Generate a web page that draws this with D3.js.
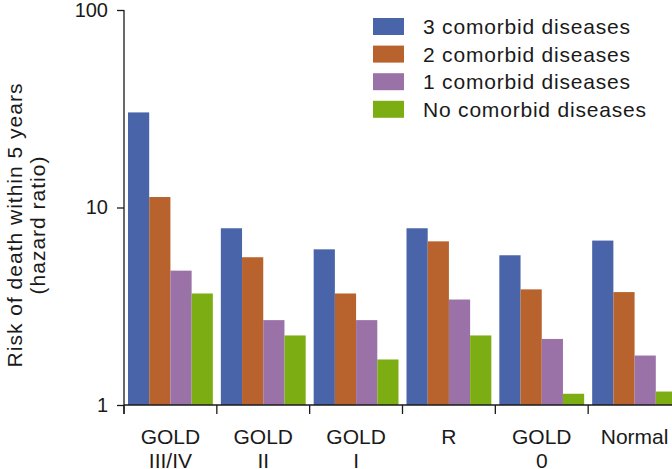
<!DOCTYPE html>
<meta charset="utf-8">
<script src="https://cdn.jsdelivr.net/npm/d3@7"></script>
<style>
body { margin: 0; background: #fff; }
text { font-family: "Liberation Sans", Arial, sans-serif; fill: #1a1a1a; }
.axis path, .axis line { stroke: #1a1a1a; stroke-width: 1.3px; }
</style>
<body>
<script>

// data
var categories = ["GOLD III/IV", "GOLD II", "GOLD I", "R", "GOLD 0", "Normal"];
var categoryLines = [["GOLD", "III/IV"], ["GOLD", "II"], ["GOLD", "I"], ["R"], ["GOLD", "0"], ["Normal"]];
var seriesNames = ["3 comorbid diseases", "2 comorbid diseases", "1 comorbid diseases", "No comorbid diseases"];
var threeDiseases = [30.3, 7.85, 6.14, 7.85, 5.73, 6.8];
var twoDiseases = [11.3, 5.6, 3.67, 6.74, 3.85, 3.73];
var oneDisease = [4.79, 2.69, 2.69, 3.42, 2.16, 1.78];
var noDisease = [3.67, 2.25, 1.70, 2.25, 1.14, 1.17];
var yTicks = [1, 10, 100];
var colors = ["#4a64aa", "#b8632d", "#9a72a8", "#7cae14"];

var seriesValues = [threeDiseases, twoDiseases, oneDisease, noDisease];

var width = 672,
    height = 469;

var svg = d3.select("body").append("svg")
    .attr("width", width)
    .attr("height", height);

var x = d3.scaleBand()
    .domain(categories)
    .range([124, 681]);

var x1 = d3.scaleBand()
    .domain(seriesNames)
    .range([4, x.bandwidth() - 4]);

var y = d3.scaleLog()
    .domain([1, 100])
    .range([405, 10]);

// bars
var groups = svg.append("g")
    .selectAll("g")
    .data(categories)
    .enter().append("g")
    .attr("transform", function(d) { return "translate(" + x(d) + ",0)"; });

groups.selectAll("rect")
    .data(function(d, i) {
        return seriesNames.map(function(s, j) {
            return {series: s, value: seriesValues[j][i], color: colors[j]};
        });
    })
    .enter().append("rect")
    .attr("x", function(d) { return x1(d.series); })
    .attr("width", x1.bandwidth())
    .attr("y", function(d) { return y(d.value); })
    .attr("height", function(d) { return y(1) - y(d.value); })
    .attr("fill", function(d) { return d.color; });

// y axis
var yAxis = svg.append("g")
    .attr("class", "axis")
    .attr("transform", "translate(124,0)")
    .call(d3.axisLeft(y).tickValues(yTicks).tickFormat(d3.format("d")).tickSize(7).tickPadding(9));
yAxis.select(".domain").remove();
yAxis.selectAll("text")
    .attr("font-size", "20px")
    .style("font-family", "'Liberation Sans', Arial, sans-serif")
    .attr("fill", "#1a1a1a");

svg.append("line")
    .attr("x1", 124).attr("x2", 124)
    .attr("y1", y(100)).attr("y2", y(1) + 9)
    .attr("stroke", "#1a1a1a").attr("stroke-width", 1.3);

// x axis
svg.append("line")
    .attr("x1", 124).attr("x2", width)
    .attr("y1", y(1)).attr("y2", y(1))
    .attr("stroke", "#1a1a1a").attr("stroke-width", 1.3);

svg.append("g")
    .selectAll("line")
    .data(categories)
    .enter().append("line")
    .attr("x1", function(d) { return x(d); })
    .attr("x2", function(d) { return x(d); })
    .attr("y1", y(1))
    .attr("y2", y(1) + 9)
    .attr("stroke", "#1a1a1a").attr("stroke-width", 1.3);

var catLabels = svg.append("g")
    .selectAll("text")
    .data(categories)
    .enter().append("text")
    .attr("text-anchor", "middle")
    .attr("font-size", "21px")
    .attr("x", function(d) { return x(d) + x.bandwidth() / 2; })
    .attr("y", 444);

catLabels.selectAll("tspan")
    .data(function(d, i) { return categoryLines[i]; })
    .enter().append("tspan")
    .attr("x", function() { return d3.select(this.parentNode).attr("x"); })
    .attr("dy", function(d, i) { return i ? 24 : 0; })
    .text(function(d) { return d; });

// y label
var yLabel = svg.append("text")
    .attr("transform", "translate(22,225) rotate(-90)")
    .attr("text-anchor", "middle")
    .attr("font-size", "21px")
    .attr("letter-spacing", "1px");
yLabel.append("tspan").attr("x", 0).attr("dy", 0).text("Risk of death within 5 years");
yLabel.append("tspan").attr("x", 0).attr("dy", 23).text("(hazard ratio)");

// legend
var legend = svg.append("g")
    .selectAll("g")
    .data(seriesNames)
    .enter().append("g")
    .attr("transform", function(d, i) { return "translate(373," + (18 + i * 27.6) + ")"; });

legend.append("rect")
    .attr("width", 31)
    .attr("height", 17)
    .attr("fill", function(d, i) { return colors[i]; });

legend.append("text")
    .attr("x", 50)
    .attr("y", 16)
    .attr("font-size", "21px")
    .attr("letter-spacing", "0.8px")
    .text(function(d) { return d; });

</script>
</body>
